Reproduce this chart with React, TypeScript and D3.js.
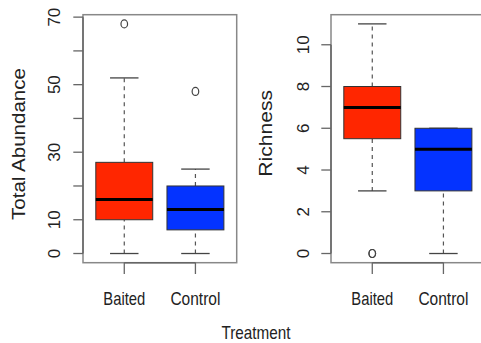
import React, { useEffect, useRef } from 'react';
import * as d3 from 'd3';

// five-number summaries per group: [lower whisker, Q1, median, Q3, upper whisker]
const groups = ['Baited', 'Control'];
const abundanceStats = [
  [0, 10, 16, 27, 52],
  [0, 7, 13, 20, 25],
];
const abundanceOutliers = [[68], [48]];
const abundanceTicks = [0, 10, 20, 30, 40, 50, 60, 70];
const abundanceTickLabels = ['0', '10', '', '30', '', '50', '', '70'];

const richnessStats = [
  [3, 5.5, 7, 8, 11],
  [0, 3, 5, 6, 6],
];
const richnessOutliers = [[0, 0], []];
const richnessTicks = [0, 2, 4, 6, 8, 10];
const richnessTickLabels = ['0', '2', '4', '6', '8', '10'];

const fills = ['#FF2600', '#0433FF'];

const App = () => {
  const svgRef = useRef<SVGSVGElement>(null);

  useEffect(() => {
    const width = 481;
    const height = 343;
    const top = 14.7;
    const bottom = 262.7;
    const font = 'Liberation Sans, Arial, Helvetica, sans-serif';

    const svg = d3.select(svgRef.current)
      .attr('width', width)
      .attr('height', height)
      .style('background', '#ffffff');
    svg.selectAll('*').remove();

    const drawPanel = (
      left: number,
      stats: number[][],
      outliers: number[][],
      ticks: number[],
      tickLabels: string[],
      ylab: string,
      ylabX: number,
      ylabY: number,
      ylabLen: number,
      tickLabelX: number,
    ) => {
      const panelWidth = 153.7;
      const lo = d3.min(stats.flat().concat(outliers.flat())) as number;
      const hi = d3.max(stats.flat().concat(outliers.flat())) as number;
      const pad = (hi - lo) * 0.04;

      const x = d3.scaleLinear().domain([0.42, 2.58]).range([left, left + panelWidth]);
      const y = d3.scaleLinear().domain([lo - pad, hi + pad]).range([bottom, top]);

      const g = svg.append('g');

      // boxes
      stats.forEach((s, i) => {
        const cx = x(i + 1);
        const bw = x(1.4) - x(1);
        const sw = x(1.2) - x(1);
        // whiskers
        g.append('line')
          .attr('x1', cx).attr('x2', cx)
          .attr('y1', y(s[0])).attr('y2', y(s[1]))
          .attr('stroke', '#555').attr('stroke-width', 1.2)
          .attr('stroke-dasharray', '4,4');
        g.append('line')
          .attr('x1', cx).attr('x2', cx)
          .attr('y1', y(s[3])).attr('y2', y(s[4]))
          .attr('stroke', '#555').attr('stroke-width', 1.2)
          .attr('stroke-dasharray', '4,4');
        // staples
        [s[0], s[4]].forEach(v => {
          g.append('line')
            .attr('x1', cx - sw).attr('x2', cx + sw)
            .attr('y1', y(v)).attr('y2', y(v))
            .attr('stroke', '#444').attr('stroke-width', 1.3);
        });
        g.append('rect')
          .attr('x', cx - bw).attr('width', bw * 2)
          .attr('y', y(s[3])).attr('height', y(s[1]) - y(s[3]))
          .attr('fill', fills[i])
          .attr('stroke', '#333').attr('stroke-width', 1);
        g.append('line')
          .attr('x1', cx - bw).attr('x2', cx + bw)
          .attr('y1', y(s[2])).attr('y2', y(s[2]))
          .attr('stroke', '#000').attr('stroke-width', 3);
        outliers[i].forEach(v => {
          g.append('ellipse')
            .attr('cx', cx).attr('cy', y(v))
            .attr('rx', 3.3).attr('ry', 4)
            .attr('fill', 'none')
            .attr('stroke', '#444').attr('stroke-width', 1.2);
        });
      });

      // frame
      g.append('rect')
        .attr('x', left).attr('y', top)
        .attr('width', panelWidth).attr('height', bottom - top)
        .attr('fill', 'none')
        .attr('stroke', '#888').attr('stroke-width', 1.5);

      // y axis
      g.append('line')
        .attr('x1', left).attr('x2', left)
        .attr('y1', y(ticks[0])).attr('y2', y(ticks[ticks.length - 1]))
        .attr('stroke', '#666').attr('stroke-width', 1.5);
      ticks.forEach((t, i) => {
        g.append('line')
          .attr('x1', left - 9.7).attr('x2', left)
          .attr('y1', y(t)).attr('y2', y(t))
          .attr('stroke', '#666').attr('stroke-width', 1.3);
        if (tickLabels[i]) {
          g.append('text')
            .attr('transform', `translate(${tickLabelX},${y(t)}) rotate(-90)`)
            .attr('text-anchor', 'middle')
            .attr('font-family', font)
            .attr('font-size', 17)
            .attr('fill', '#222')
            .text(tickLabels[i]);
        }
      });

      // x axis
      g.append('line')
        .attr('x1', x(1)).attr('x2', x(2))
        .attr('y1', bottom).attr('y2', bottom)
        .attr('stroke', '#666').attr('stroke-width', 1.5);
      groups.forEach((name, i) => {
        g.append('line')
          .attr('x1', x(i + 1)).attr('x2', x(i + 1))
          .attr('y1', bottom).attr('y2', bottom + 11.3)
          .attr('stroke', '#666').attr('stroke-width', 1.3);
        g.append('text')
          .attr('x', x(i + 1)).attr('y', 305)
          .attr('text-anchor', 'middle')
          .attr('font-family', font)
          .attr('font-size', 18.5)
          .attr('textLength', name === 'Baited' ? 42 : 50)
          .attr('lengthAdjust', 'spacingAndGlyphs')
          .attr('fill', '#222')
          .text(name);
      });

      g.append('text')
        .attr('transform', `translate(${ylabX},${ylabY}) rotate(-90)`)
        .attr('text-anchor', 'middle')
        .attr('font-family', font)
        .attr('font-size', 18)
        .attr('textLength', ylabLen)
        .attr('lengthAdjust', 'spacingAndGlyphs')
        .attr('fill', '#222')
        .text(ylab);
    };

    drawPanel(83, abundanceStats, abundanceOutliers, abundanceTicks, abundanceTickLabels,
      'Total Abundance', 25, 144, 152, 60);
    drawPanel(331, richnessStats, richnessOutliers, richnessTicks, richnessTickLabels,
      'Richness', 271.7, 133.3, 86.7, 308.5);

    svg.append('text')
      .attr('x', 256).attr('y', 339.3)
      .attr('text-anchor', 'middle')
      .attr('font-family', font)
      .attr('font-size', 18.5)
      .attr('textLength', 69)
      .attr('lengthAdjust', 'spacingAndGlyphs')
      .attr('fill', '#222')
      .text('Treatment');
  }, []);

  return (
    <svg ref={svgRef} style={{ position: 'absolute', left: 0, top: 0 }}></svg>
  );
};

export default App;
